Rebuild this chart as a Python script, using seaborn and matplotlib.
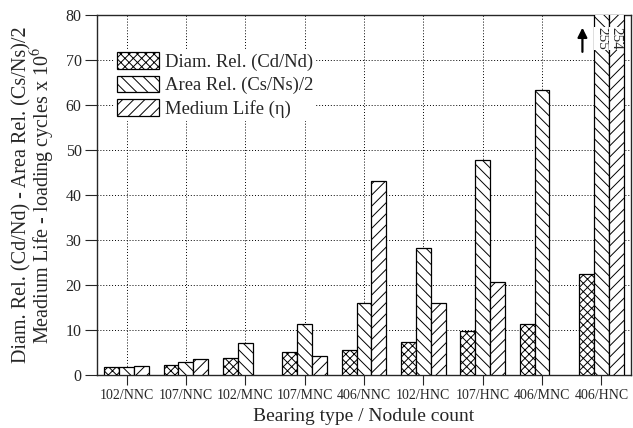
import numpy as np
import pandas as pd
import matplotlib
matplotlib.use("Agg")
import matplotlib.pyplot as plt
import seaborn as sns

categories = ["102/NNC", "107/NNC", "102/MNC", "107/MNC", "406/NNC",
              "102/HNC", "107/HNC", "406/MNC", "406/HNC"]
diam_rel = [1.85, 2.4, 3.95, 5.1, 5.7, 7.5, 9.8, 11.3, 22.5]
area_rel = [1.8, 2.9, 7.1, 11.4, 16.0, 28.2, 47.9, 63.3, 255]
medium_life = [2.1, 3.7, np.nan, 4.2, 43.1, 16.0, 20.8, np.nan, 254]
series = ["Diam. Rel. (Cd/Nd)", "Area Rel. (Cs/Ns)/2", "Medium Life (\u03b7)"]

df = pd.DataFrame({
    "cat": categories * 3,
    "val": diam_rel + area_rel + medium_life,
    "series": [series[0]] * 9 + [series[1]] * 9 + [series[2]] * 9,
})

sns.set_style("ticks")
plt.rcParams["font.family"] = ["Liberation Serif", "DejaVu Serif"]
plt.rcParams["hatch.linewidth"] = 0.7
plt.rcParams["mathtext.fontset"] = "stix"

fig = plt.figure(figsize=(6.33, 4.28), dpi=100)
ax = fig.add_axes([0.153, 0.123, 0.844, 0.842])

sns.barplot(data=df, x="cat", y="val", hue="series", order=categories,
            hue_order=series, palette=["white"] * 3, width=0.75,
            edgecolor="black", linewidth=0.9, ax=ax, zorder=3)

hatches = ["xxxx", "\\\\\\", "///"]
for cont, h in zip(ax.containers, hatches):
    for bar in cont:
        bar.set_hatch(h)

ax.set_ylim(0, 80)
ax.set_xlim(-0.5, 8.5)
ax.set_yticks(range(0, 81, 10))
ax.grid(True, linestyle=(0, (1, 2)), color="black", linewidth=0.7, zorder=0)
ax.set_axisbelow(True)
for s in ax.spines.values():
    s.set_linewidth(1.0)
ax.tick_params(axis="y", direction="out", length=9, width=0.8, labelsize=11.5, pad=2)
ax.tick_params(axis="x", direction="out", length=7, width=0.8, labelsize=10, pad=3)

ax.set_xlabel("Bearing type / Nodule count", fontsize=14, labelpad=4)
ax.set_ylabel("Diam. Rel. (Cd/Nd) - Area Rel. (Cs/Ns)/2\n"
              "Meadium Life - loading cycles x 10$^6$", fontsize=14.5,
              labelpad=6, linespacing=0.9)

handles, labels = ax.get_legend_handles_labels()
for hd, h in zip(handles, hatches):
    hd.set_hatch(h)
    hd.set_edgecolor("black")
    hd.set_facecolor("white")
leg = ax.legend(handles, labels, loc="upper left", bbox_to_anchor=(0.025, 0.915),
                frameon=True, fontsize=13.4, handlelength=2.25, handleheight=1.0,
                labelspacing=0.26, handletextpad=0.35, borderaxespad=0.2,
                borderpad=0.15, fancybox=False)
leg.get_frame().set_edgecolor("none")
leg.get_frame().set_facecolor("white")
leg.get_frame().set_alpha(1)

# clipped bars for 406/HNC
for xpos, txt in [(8.0, "255"), (8.25, "254")]:
    ax.text(xpos, 74.8, txt, rotation=-90, ha="center", va="center", fontsize=11,
            bbox=dict(facecolor="white", edgecolor="none", pad=0.3), zorder=5)
ax.annotate("", xy=(7.68, 77.8), xytext=(7.68, 71.2),
            arrowprops=dict(arrowstyle="-|>", color="black", lw=1.6,
                            mutation_scale=14), zorder=5)

fig.savefig("out.png", dpi=100)
